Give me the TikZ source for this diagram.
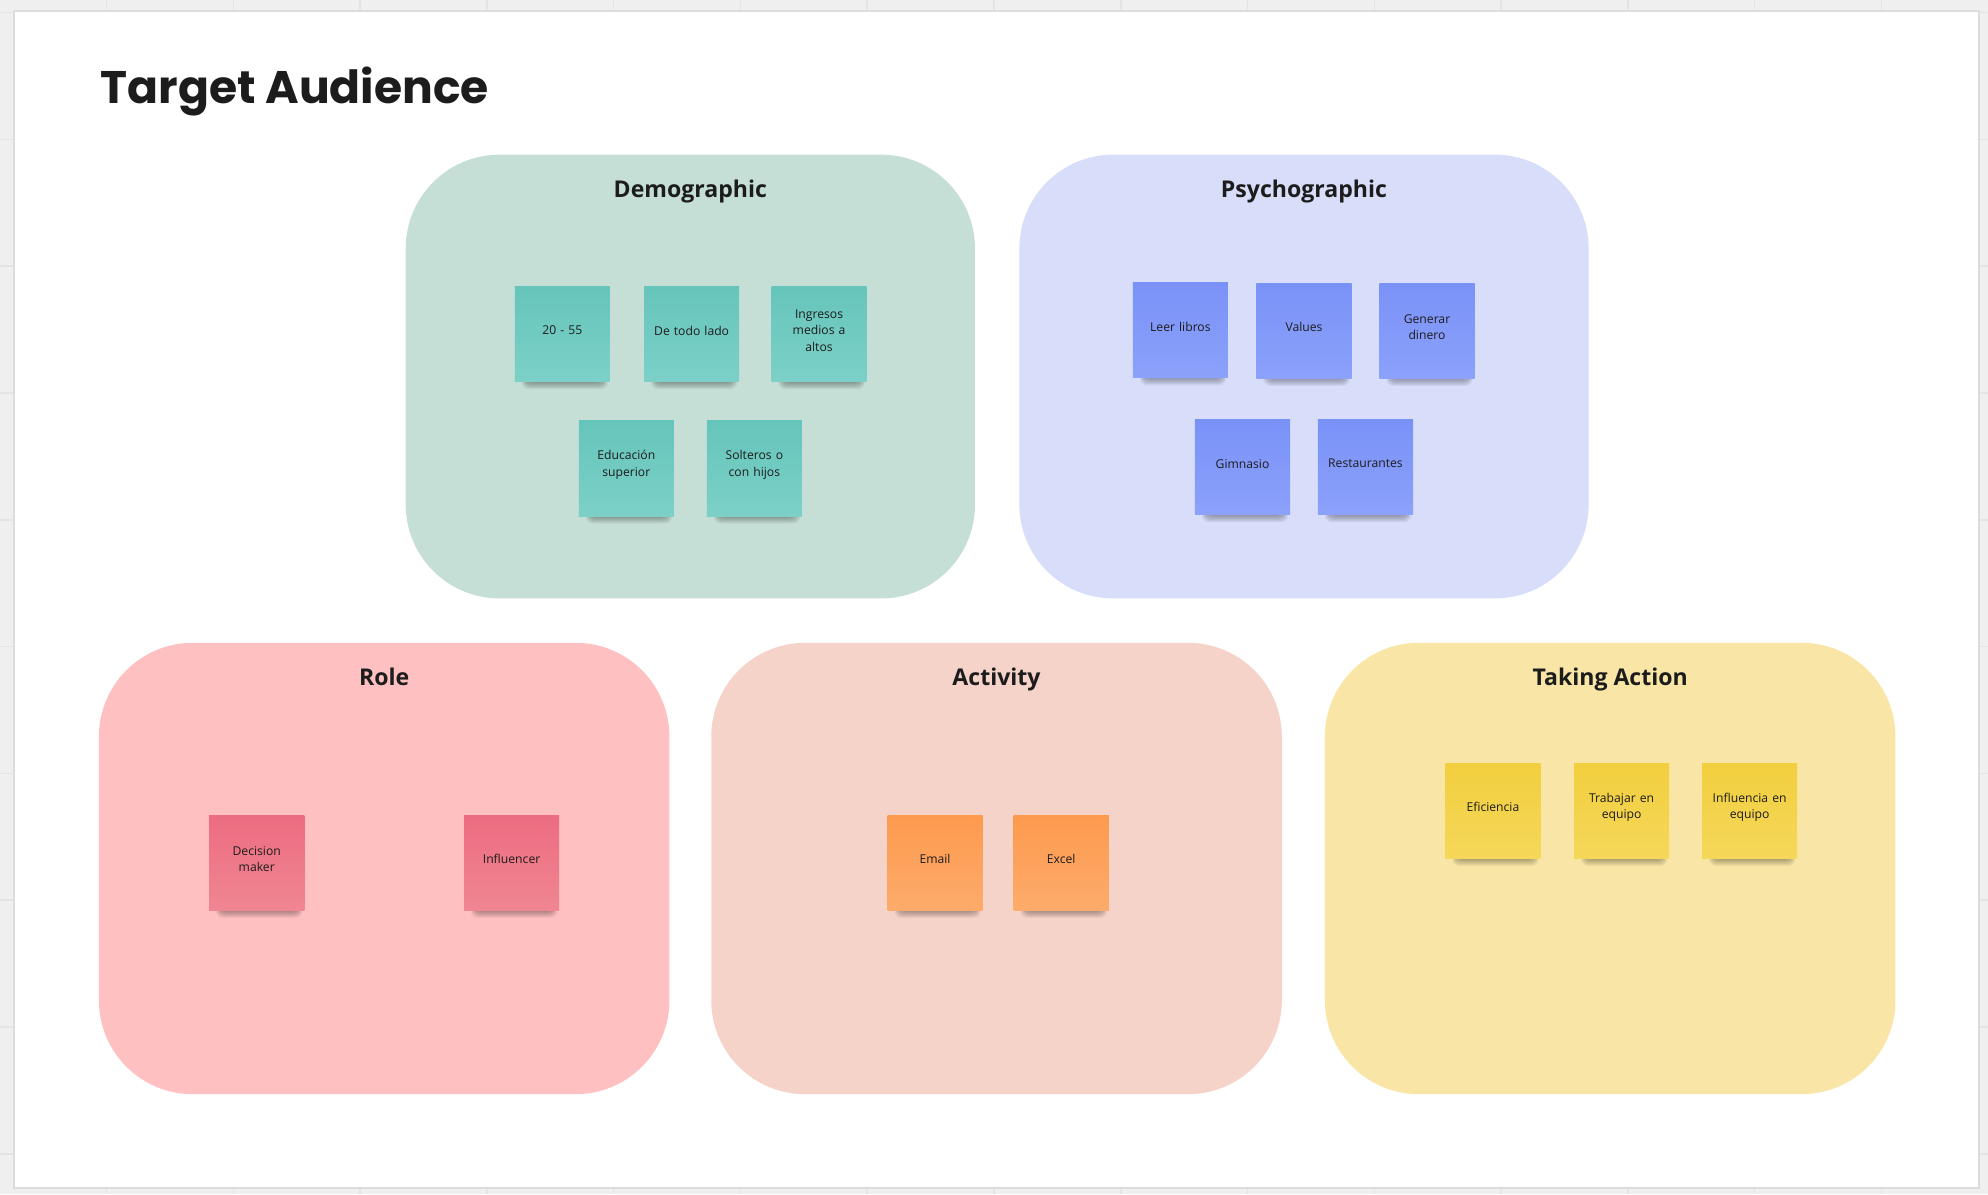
\documentclass[tikz,border=0pt]{standalone}
\usepackage{fontspec}
\setmainfont{Open Sans}
\newfontfamily\titlefont{Poppins}
\newfontfamily\osans{Open Sans}
\definecolor{bggray}{HTML}{EFEFEF}
\definecolor{gridln}{HTML}{E4E4E4}
\definecolor{framebd}{HTML}{DCDCDC}
\definecolor{pDemo}{HTML}{C5DFD6}
\definecolor{pPsy}{HTML}{D8DEFA}
\definecolor{pRole}{HTML}{FFC0C1}
\definecolor{pAct}{HTML}{F6D3C8}
\definecolor{pTake}{HTML}{F9E6A6}
\definecolor{tealT}{HTML}{66C5BB}
\definecolor{tealB}{HTML}{7CD0C7}
\definecolor{blueT}{HTML}{7A92F8}
\definecolor{blueB}{HTML}{8BA1FA}
\definecolor{pinkT}{HTML}{EC6C80}
\definecolor{pinkB}{HTML}{F08692}
\definecolor{oranT}{HTML}{FD9A4E}
\definecolor{oranB}{HTML}{FDAB6B}
\definecolor{yellT}{HTML}{F2CF3E}
\definecolor{yellB}{HTML}{F5D75A}
\definecolor{inkc}{HTML}{1C1C1C}
\tikzset{
  panel/.style={fill=#1, draw=none, rounded corners=37pt},
  paneltitle/.style={font=\osans\bfseries\fontsize{9.1}{11}\selectfont, text=inkc, inner sep=0pt, anchor=base},
  stickybox/.style={minimum width=37.5pt, minimum height=37.5pt, inner sep=0pt,
    top color=#1T, bottom color=#1B, draw=none},
  stickytext/.style={inner sep=0pt, align=center, text width=34pt,
    font=\osans\fontsize{4.8}{6.5}\selectfont, text=inkc},
  shadowL/.style={fill=black, opacity=0.055, rounded corners=2.5pt},
}
\newcommand\stick[5]{%
  \foreach \k in {0,1,...,6} {
    \fill[shadowL] (#2-27-\k*0.8,#3+35) rectangle (#2+31+\k*0.8,#3+38+\k*0.9);
  }
  \node[stickybox=#4] (#1) at (#2,#3) {};
  \node[stickytext] (#1t) at ([yshift=1.4pt]#1.center) {#5};
}
\begin{document}
\begin{tikzpicture}[x=0.5pt,y=-0.5pt]
\useasboundingbox (0,0) rectangle (1568,942);
% background and grid
\fill[bggray] (0,0) rectangle (1568,942);
\foreach \gx in {84,184,...,1584} \draw[gridln, line width=0.6pt] (\gx,0) -- (\gx,942);
\foreach \gy in {10,110,...,942} \draw[gridln, line width=0.6pt] (0,\gy) -- (1568,\gy);
\fill[white, draw=framebd, line width=0.8pt] (11,9) rectangle (1561,937);
% title
\node[anchor=base west, inner sep=0pt, font=\titlefont\bfseries\fontsize{18}{22}\selectfont, text=inkc] (title) at (79,82) {Target Audience};
% panels
\fill[panel=pDemo] (320,122) rectangle (769,472);
\fill[panel=pPsy] (804,122) rectangle (1253,472);
\fill[panel=pRole] (78,507) rectangle (528,863);
\fill[panel=pAct] (561,507) rectangle (1011,863);
\fill[panel=pTake] (1045,507) rectangle (1495,863);
\node[paneltitle] (tDemo) at (544.5,156) {Demographic};
\node[paneltitle] (tPsy) at (1028.5,156) {Psychographic};
\node[paneltitle] (tRole) at (303,541) {Role};
\node[paneltitle] (tAct) at (786,541) {Activity};
\node[paneltitle] (tTake) at (1270,541) {Taking Action};
% demographic stickies
\stick{d1}{443.5}{263.5}{teal}{20 - 55}
\stick{d2}{545.5}{263.5}{teal}{De todo lado}
\stick{d3}{646}{263.5}{teal}{Ingresos\\medios a\\altos}
\stick{d4}{494}{369.5}{teal}{Educación\\superior}
\stick{d5}{595}{369.5}{teal}{Solteros o\\con hijos}
% psychographic stickies
\stick{p1}{931}{260.5}{blue}{Leer libros}
\stick{p2}{1028.5}{261}{blue}{Values}
\stick{p3}{1125.5}{261}{blue}{Generar\\dinero}
\stick{p4}{980}{368.5}{blue}{Gimnasio}
\stick{p5}{1077}{368.5}{blue}{Restaurantes}
% role stickies
\stick{r1}{202.5}{680.5}{pink}{Decision\\maker}
\stick{r2}{403.5}{680.5}{pink}{Influencer}
% activity stickies
\stick{a1}{737.5}{680.5}{oran}{Email}
\stick{a2}{837}{680.5}{oran}{Excel}
% taking action stickies
\stick{k1}{1177.5}{639.5}{yell}{Eficiencia}
\stick{k2}{1279}{639.5}{yell}{Trabajar en\\equipo}
\stick{k3}{1380}{639.5}{yell}{Influencia en\\equipo}
\end{tikzpicture}
\end{document}
